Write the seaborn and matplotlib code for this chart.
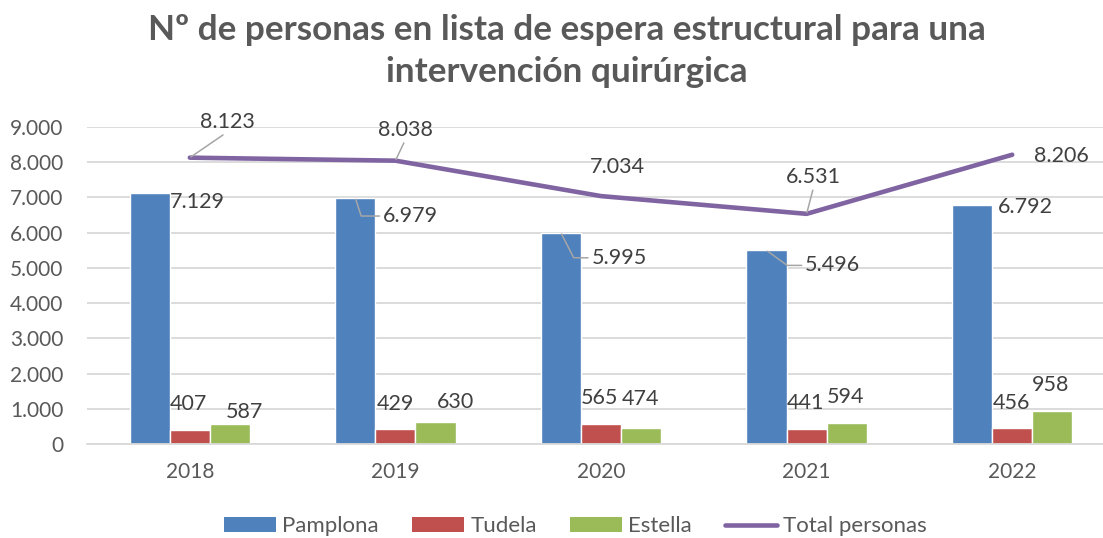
import matplotlib
matplotlib.use("Agg")
import matplotlib.pyplot as plt
import seaborn as sns
import numpy as np
import pandas as pd
from matplotlib.patches import Patch
from matplotlib.lines import Line2D

years = ["2018", "2019", "2020", "2021", "2022"]
series = ["Pamplona", "Tudela", "Estella"]
pamplona = [7129, 6979, 5995, 5496, 6792]
tudela = [407, 429, 565, 441, 456]
estella = [587, 630, 474, 594, 958]
total = [8123, 8038, 7034, 6531, 8206]
y_ticks = [0, 1000, 2000, 3000, 4000, 5000, 6000, 7000, 8000, 9000]

colors = {"Pamplona": "#4F81BD", "Tudela": "#C0504D", "Estella": "#9BBB59"}
line_color = "#8064A2"

# label offsets in pixels (dx, dy), with optional leader line
bar_label_offsets = {
    "Pamplona": [(48, -9), (55, -18), (58, -25), (66, -15), (53, -2)],
    "Tudela": [(-1, 26), (0, 25), (-2, 26), (-1, 26), (-1, 25)],
    "Estella": [(15, 12), (20, 20), (-1, 29), (-1, 26), (-2, 26)],
}
bar_leaders = {("Pamplona", 1): -72, ("Pamplona", 2): -63, ("Pamplona", 3): -36}
line_label_offsets = [(38, 36), (10, 31), (16, 29), (7, 37), (49, -1)]
line_leaders = [0, 1, 3]


def fmt(v):
    return f"{v:,.0f}".replace(",", ".")


df = pd.DataFrame({
    "year": years * 3,
    "serie": [s for s in series for _ in years],
    "value": pamplona + tudela + estella,
})

sns.set_style("white")
plt.rcParams["font.family"] = ["Lato", "DejaVu Sans"]

fig = plt.figure(figsize=(11.03, 5.38), dpi=100)
ax = fig.add_axes([0.0789, 0.174, 0.932, 0.5905])

sns.barplot(data=df, x="year", y="value", hue="serie", palette=colors,
            width=0.585, saturation=1, legend=False, ax=ax)
sns.lineplot(x=np.arange(len(years)), y=total, color=line_color, linewidth=3.3,
             solid_capstyle="round", solid_joinstyle="round", ax=ax, zorder=4)

ax.set_ylim(0, 9000)
ax.set_xlim(-0.5, len(years) - 0.5)
ax.set_yticks(y_ticks)
ax.set_yticklabels([fmt(v) for v in y_ticks])
ax.set_xlabel("")
ax.set_ylabel("")
ax.yaxis.grid(True, color="#D9D9D9", linewidth=1.3)
ax.set_axisbelow(True)
for side in ["left", "right", "top"]:
    ax.spines[side].set_visible(False)
ax.spines["bottom"].set_color("#D9D9D9")
ax.spines["bottom"].set_linewidth(1.3)
ax.tick_params(axis="y", length=0, pad=17, labelsize=15, labelcolor="#595959")
ax.tick_params(axis="x", length=0, pad=13, labelsize=15, labelcolor="#595959")

label_kw = dict(textcoords="offset pixels", ha="center", va="center",
                fontsize=15.5, color="#404040", zorder=6)
leader = dict(arrowstyle="-", color="#A6A6A6", lw=1.1, shrinkA=0, shrinkB=1)

for k, s in enumerate(series):
    bars = ax.containers[k]
    for i, rect in enumerate(bars):
        x = rect.get_x() + rect.get_width() / 2
        h = rect.get_height()
        dx, dy = bar_label_offsets[s][i]
        arrow = None
        if (s, i) in bar_leaders:
            arrow = dict(leader, relpos=(0, 0.5),
                         connectionstyle=f"angle,angleA=0,angleB={bar_leaders[(s, i)]},rad=0")
        ax.annotate(fmt(h), xy=(x, h), xytext=(dx, dy), arrowprops=arrow, **label_kw)

for i, v in enumerate(total):
    dx, dy = line_label_offsets[i]
    arrow = dict(leader, relpos=(0.5, 0)) if i in line_leaders else None
    ax.annotate(fmt(v), xy=(i, v), xytext=(dx, dy), arrowprops=arrow, **label_kw)

fig.text(0.514, 0.905, "Nº de personas en lista de espera estructural para una\nintervención quirúrgica",
         ha="center", va="center", fontsize=25.3, fontweight="bold", color="#595959",
         linespacing=1.4)

handles = [Patch(facecolor=colors[s], edgecolor="none") for s in series]
handles.append(Line2D([0], [0], color=line_color, linewidth=3.3, solid_capstyle="round"))
fig.legend(handles, series + ["Total personas"], loc="center", bbox_to_anchor=(0.522, 0.022),
           ncol=4, frameon=False, fontsize=16, labelcolor="#595959",
           handlelength=2.34, handleheight=0.63, handletextpad=0.27, columnspacing=1.5)

fig.savefig("out.png", dpi=100)
